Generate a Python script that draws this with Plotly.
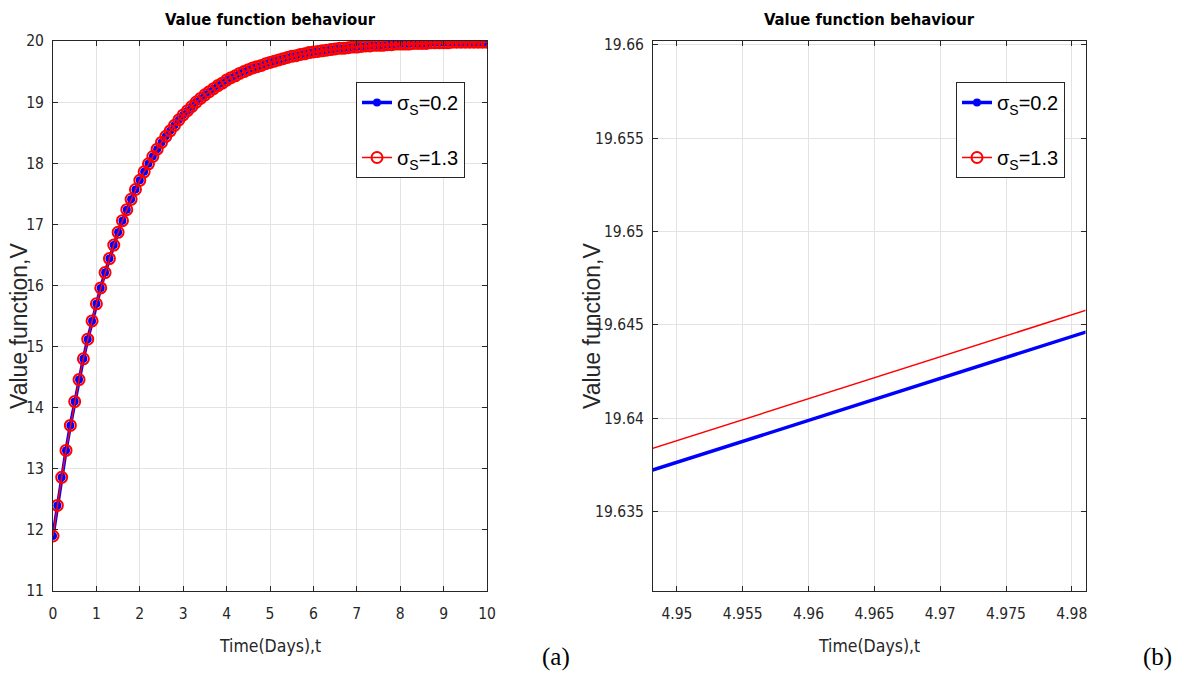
import plotly.graph_objects as go

# time grid (days)
t = [round(0.1 * i, 1) for i in range(101)]

# value function, sigma_S = 0.2
v_02 = [11.90, 12.40, 12.86, 13.30, 13.71, 14.10, 14.46, 14.80, 15.12, 15.42,
        15.70, 15.96, 16.21, 16.44, 16.66, 16.87, 17.06, 17.24, 17.41, 17.57,
        17.72, 17.86, 17.99, 18.11, 18.23, 18.34, 18.44, 18.53, 18.62, 18.71,
        18.79, 18.86, 18.93, 19.00, 19.06, 19.12, 19.17, 19.22, 19.27, 19.31,
        19.36, 19.40, 19.43, 19.47, 19.50, 19.53, 19.56, 19.58, 19.60, 19.62641,
        19.64887, 19.67, 19.69, 19.71, 19.73, 19.75, 19.76, 19.78, 19.79, 19.81,
        19.82, 19.83, 19.84, 19.85, 19.86, 19.87, 19.88, 19.88, 19.89, 19.90,
        19.90, 19.91, 19.92, 19.92, 19.93, 19.93, 19.93, 19.94, 19.94, 19.95,
        19.95, 19.95, 19.95, 19.96, 19.96, 19.96, 19.96, 19.97, 19.97, 19.97,
        19.97, 19.97, 19.98, 19.98, 19.98, 19.98, 19.98, 19.98, 19.98, 19.98,
        19.98]

# value function, sigma_S = 1.3
v_13 = [11.90, 12.40, 12.86, 13.30, 13.71, 14.10, 14.46, 14.80, 15.12, 15.42,
        15.70, 15.96, 16.21, 16.44, 16.66, 16.87, 17.06, 17.24, 17.41, 17.57,
        17.72, 17.86, 17.99, 18.11, 18.23, 18.34, 18.44, 18.53, 18.62, 18.71,
        18.79, 18.86, 18.93, 19.00, 19.06, 19.12, 19.17, 19.22, 19.27, 19.31,
        19.36, 19.40, 19.43, 19.47, 19.50, 19.53, 19.56, 19.58, 19.60, 19.62757,
        19.65003, 19.67, 19.69, 19.71, 19.73, 19.75, 19.76, 19.78, 19.79, 19.81,
        19.82, 19.83, 19.84, 19.85, 19.86, 19.87, 19.88, 19.88, 19.89, 19.90,
        19.90, 19.91, 19.92, 19.92, 19.93, 19.93, 19.93, 19.94, 19.94, 19.95,
        19.95, 19.95, 19.95, 19.96, 19.96, 19.96, 19.96, 19.97, 19.97, 19.97,
        19.97, 19.97, 19.98, 19.98, 19.98, 19.98, 19.98, 19.98, 19.98, 19.98,
        19.98]

names = ["σ<sub>S</sub>=0.2", "σ<sub>S</sub>=1.3"]

xa_ticks = list(range(0, 11))
ya_ticks = list(range(11, 21))
xb_ticks = [4.95, 4.955, 4.96, 4.965, 4.97, 4.975, 4.98]
xb_text = ["4.95", "4.955", "4.96", "4.965", "4.97", "4.975", "4.98"]
yb_ticks = [19.635, 19.64, 19.645, 19.65, 19.655, 19.66]
yb_text = ["19.635", "19.64", "19.645", "19.65", "19.655", "19.66"]

NARROW = "Liberation Sans Narrow, Arial Narrow, DejaVu Sans Condensed, Liberation Sans, Arial"
WIDE = "Liberation Sans, Arial, Helvetica"
BLUE = "#0000ff"
RED = "#ff0000"

fig = go.Figure()

for xa, ya, leg in [("x", "y", "legend"), ("x2", "y2", "legend2")]:
    fig.add_trace(go.Scatter(
        x=t, y=v_02, xaxis=xa, yaxis=ya, name=names[0], legend=leg,
        legendgroup=leg + "a", mode="lines+markers",
        line=dict(color=BLUE, width=3.5),
        marker=dict(symbol="circle", size=8, color=BLUE, line=dict(width=0)),
    ))
    fig.add_trace(go.Scatter(
        x=t, y=v_13, xaxis=xa, yaxis=ya, name=names[1], legend=leg,
        legendgroup=leg + "b", mode="lines+markers",
        line=dict(color=RED, width=1.5),
        marker=dict(symbol="circle-open", size=11, color=RED, line=dict(width=2, color=RED)),
    ))

axis_common = dict(
    showgrid=True, gridcolor="#e3e3e3", gridwidth=1,
    showline=True, linecolor="#262626", linewidth=1, mirror="ticks",
    ticks="inside", ticklen=5, tickcolor="#262626", tickwidth=1,
    zeroline=False, automargin=False,
    tickfont=dict(family=NARROW, size=15.5, color="#262626"),
)

fig.update_layout(
    width=1183, height=673,
    margin=dict(l=0, r=0, t=0, b=0, pad=0),
    paper_bgcolor="white", plot_bgcolor="white",
    xaxis=dict(domain=[53 / 1183, 487 / 1183], range=[0, 10], tickvals=xa_ticks,
               anchor="y", ticklabelstandoff=8, **axis_common),
    yaxis=dict(domain=[82 / 673, 632 / 673], range=[11, 20], tickvals=ya_ticks,
               anchor="x", ticklabelstandoff=5, **axis_common),
    xaxis2=dict(domain=[653 / 1183, 1085.5 / 1183], range=[4.94818, 4.98104],
                tickvals=xb_ticks, ticktext=xb_text, anchor="y2",
                ticklabelstandoff=8, **axis_common),
    yaxis2=dict(domain=[82 / 673, 632 / 673], range=[19.63075, 19.6602],
                tickvals=yb_ticks, ticktext=yb_text, anchor="x2",
                ticklabelstandoff=5, **axis_common),
    legend=dict(x=356 / 1183, y=1 - 82 / 673, xanchor="left", yanchor="top",
                bgcolor="white", bordercolor="#262626", borderwidth=1,
                font=dict(family=WIDE, size=20, color="black"), tracegroupgap=26),
    legend2=dict(x=956 / 1183, y=1 - 82 / 673, xanchor="left", yanchor="top",
                 bgcolor="white", bordercolor="#262626", borderwidth=1,
                 font=dict(family=WIDE, size=20, color="black"), tracegroupgap=26),
    showlegend=True,
)

ann = []
common = dict(xref="paper", yref="paper", showarrow=False, xanchor="center", yanchor="middle")
for cx in [270 / 1183, 869 / 1183]:
    ann.append(dict(text="<b>Value function behaviour</b>", x=cx, y=1 - 19 / 673,
                    font=dict(family=NARROW, size=16.5, color="black"), **common))
    ann.append(dict(text="Time(Days),t", x=cx, y=1 - 646 / 673,
                    font=dict(family=NARROW, size=17.5, color="#262626"), **common))
for cx in [19 / 1183, 592 / 1183]:
    ann.append(dict(text="Value function,V", x=cx, y=1 - 326 / 673, textangle=-90,
                    font=dict(family=WIDE, size=23, color="#262626"), **common))
ann.append(dict(text="(a)", x=556 / 1183, y=1 - 657 / 673,
                font=dict(family="Liberation Serif, Times New Roman", size=25, color="black"), **common))
ann.append(dict(text="(b)", x=1157 / 1183, y=1 - 657 / 673,
                font=dict(family="Liberation Serif, Times New Roman", size=25, color="black"), **common))
fig.update_layout(annotations=ann)

fig.write_html("out.html")
